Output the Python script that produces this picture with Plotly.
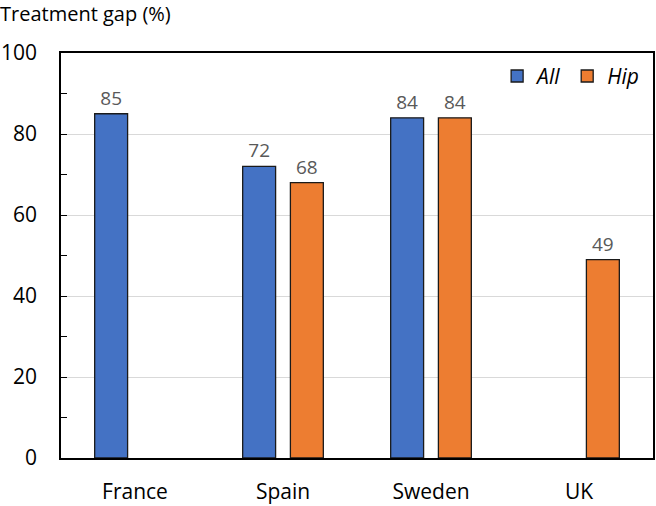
import plotly.graph_objects as go

categories = ["France", "Spain", "Sweden", "UK"]
all_vals = [85, 72, 84, None]
hip_vals = [None, 68, 84, 49]
y_ticks = [0, 20, 40, 60, 80, 100]

FONT = "Open Sans"

fig = go.Figure()
fig.add_trace(go.Bar(
    x=categories, y=all_vals, name="All",
    marker=dict(color="#4472C4", line=dict(color="#1a1a1a", width=1.3)),
    text=[str(v) if v is not None else "" for v in all_vals],
    textposition="outside", cliponaxis=False,
    textfont=dict(family=FONT, size=19, color="#595959"),
))
fig.add_trace(go.Bar(
    x=categories, y=hip_vals, name="Hip",
    marker=dict(color="#ED7D31", line=dict(color="#1a1a1a", width=1.3)),
    text=[str(v) if v is not None else "" for v in hip_vals],
    textposition="outside", cliponaxis=False,
    textfont=dict(family=FONT, size=19, color="#595959"),
))

fig.update_layout(
    width=656, height=506,
    margin=dict(l=60, r=1, t=53, b=46),
    paper_bgcolor="white", plot_bgcolor="white",
    barmode="group", bargap=0.355, bargroupgap=0.31,
    font=dict(family=FONT, color="black"),
    title=dict(text="Treatment gap (%)", x=0.0, xanchor="left", xref="container",
               y=0.972, yanchor="middle", yref="container",
               font=dict(family=FONT, size=20, color="black"), pad=dict(l=0, t=0)),
    legend=dict(orientation="h", x=0.985, xanchor="right", y=0.993, yanchor="top",
                font=dict(family=FONT, size=21, style="italic"),
                bgcolor="rgba(0,0,0,0)", itemwidth=30, traceorder="normal"),
    showlegend=True,
)
fig.update_xaxes(
    showline=True, linecolor="black", linewidth=1.5, mirror=True,
    ticks="", tickfont=dict(family=FONT, size=21, color="black"),
    ticklabelstandoff=14,
)
fig.update_yaxes(
    range=[0, 100], tickvals=y_ticks,
    showline=True, linecolor="black", linewidth=1.5, mirror=True,
    showgrid=True, gridcolor="#d9d9d9", gridwidth=1,
    ticks="inside", ticklen=6, tickcolor="black",
    minor=dict(dtick=10, tick0=0, ticks="inside", ticklen=6, tickcolor="black", showgrid=False),
    tickfont=dict(family=FONT, size=21, color="black"),
    ticklabelstandoff=18,
    zeroline=False,
)
fig.write_html("out.html", config={"displayModeBar": False},
               post_script="document.body.style.margin='0px';document.body.style.overflow='hidden';")
